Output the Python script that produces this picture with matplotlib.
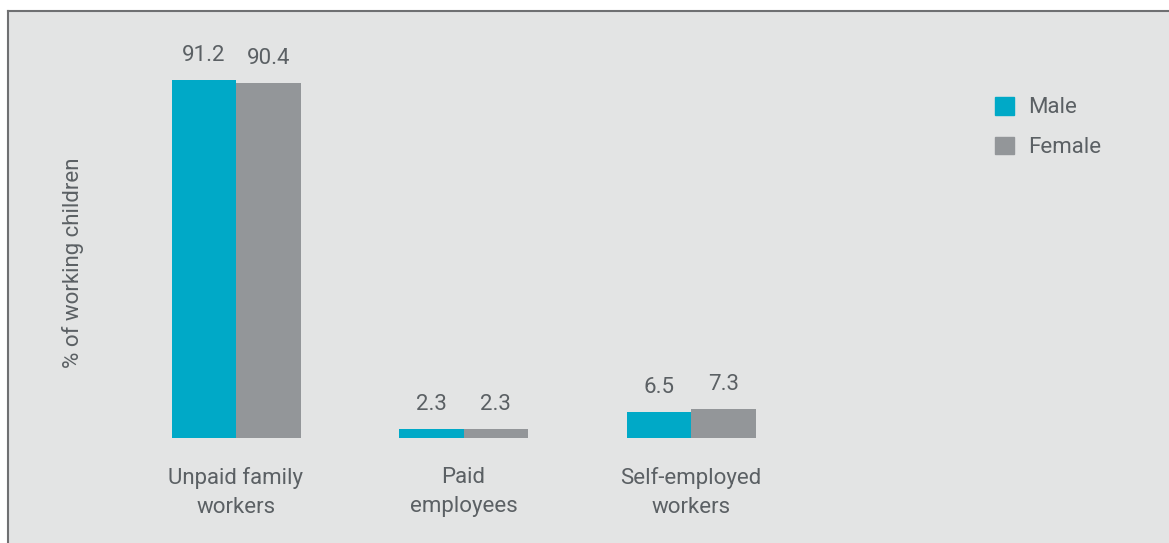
import matplotlib
matplotlib.use("Agg")
import matplotlib.pyplot as plt
from matplotlib.patches import Patch
import numpy as np

categories = ["Unpaid family\nworkers", "Paid\nemployees", "Self-employed\nworkers"]
male = [91.2, 2.3, 6.5]
female = [90.4, 2.3, 7.3]
series_names = ["Male", "Female"]
ylabel = "% of working children"

MALE_C = "#00a9c7"
FEMALE_C = "#939699"
BG = "#e3e4e4"
TXT = "#5b6064"
BORDER = "#6f7072"

plt.rcParams['font.family'] = ['Roboto', 'DejaVu Sans']
FS = 16

W, H = 1169, 543
fig = plt.figure(figsize=(W / 100, H / 100), dpi=100)
fig.patch.set_facecolor("white")

# panel from x=8..1169, y=11..543 (pixels from top)
ax = fig.add_axes([8 / W, 0, 1 - 8 / W, (H - 11) / H])
ax.set_facecolor(BG)
for s in ["right", "bottom"]:
    ax.spines[s].set_visible(False)
for s in ["top", "left"]:
    ax.spines[s].set_color(BORDER)
    ax.spines[s].set_linewidth(1.5)

px_grp = 227.5
px_unit = 3.925
ax.set_xlim((8 - 236) / px_grp, (1169 - 236) / px_grp)
ax.set_ylim((438 - 543) / px_unit, (438 - 11) / px_unit)
ax.set_xticks([])
ax.set_yticks([])

x = np.arange(len(categories))
bw = 64.5 / px_grp
b1 = ax.bar(x - bw / 2, male, bw, color=MALE_C, label=series_names[0])
b2 = ax.bar(x + bw / 2, female, bw, color=FEMALE_C, label=series_names[1])

for bars, vals in ((b1, male), (b2, female)):
    for r, v in zip(bars, vals):
        ax.annotate(f"{v:.1f}", xy=(r.get_x() + r.get_width() / 2, v),
                    xytext=(0, 14), textcoords="offset pixels",
                    ha="center", va="bottom", fontsize=FS, color=TXT)

for xi, lab in zip(x, categories):
    ax.annotate(lab, xy=(xi, 0), xytext=(0, -29), textcoords="offset pixels",
                ha="center", va="top", fontsize=FS, color=TXT, linespacing=1.5)

fig.text(73 / W, 1 - 263 / H, ylabel, rotation=90, ha="center", va="center",
         fontsize=FS, color=TXT)

handles = [Patch(color=MALE_C, label=series_names[0]),
           Patch(color=FEMALE_C, label=series_names[1])]
leg = fig.legend(handles=handles, loc="upper left",
                 bbox_to_anchor=(986 / W, 1 - 88 / H), frameon=False,
                 fontsize=FS, handlelength=0.85, handleheight=0.85,
                 handletextpad=0.65, labelspacing=0.82, borderaxespad=0)
for t in leg.get_texts():
    t.set_color(TXT)

fig.savefig("out.png", dpi=100, facecolor=fig.get_facecolor())
